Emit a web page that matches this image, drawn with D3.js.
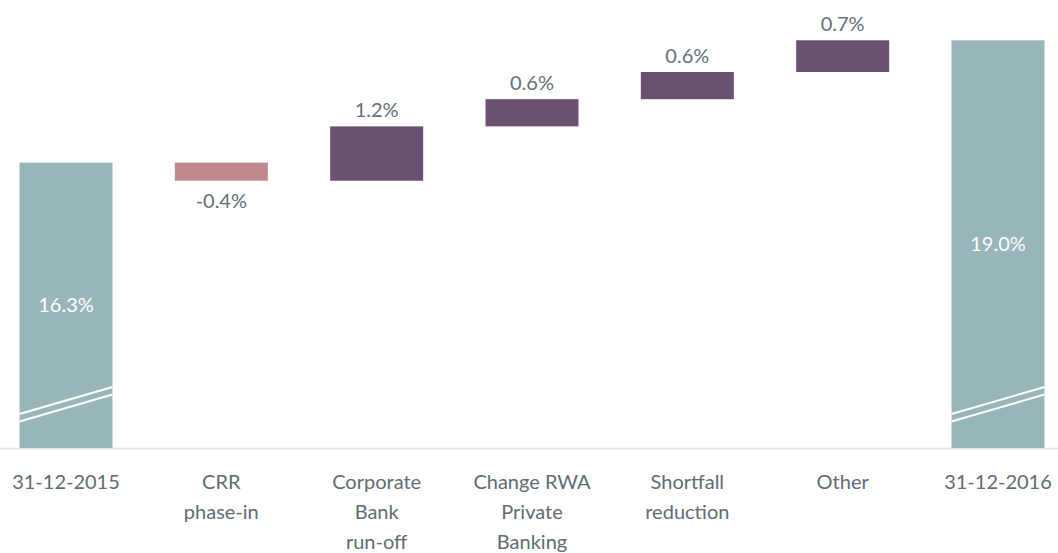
<!DOCTYPE html>
<html>
<head>
<meta charset="utf-8">
<script src="https://cdn.jsdelivr.net/npm/d3@7"></script>
<style>
  html, body { margin: 0; padding: 0; background: #fff; }
  svg { display: block; font-family: "Source Sans Pro", Lato, "Noto Sans", sans-serif; }
</style>
</head>
<body>
<div id="chart"></div>
<script>
// categories (multi-line labels split on \n)
const categories = [
  "31-12-2015",
  "CRR\nphase-in",
  "Corporate\nBank\nrun-off",
  "Change RWA\nPrivate\nBanking",
  "Shortfall\nreduction",
  "Other",
  "31-12-2016"
];
// "total" bars carry their level, the others carry the step
const kinds = ["total", "step", "step", "step", "step", "step", "total"];
const values = [16.3, -0.4, 1.2, 0.6, 0.6, 0.7, 19.0];

function draw() {
  const width = 1058;
  const height = 553;

  const colors = { total: "#98b5b9", up: "#6a5172", down: "#bf8a8d" };

  // running totals -> bar start / end
  let running = 0;
  const bars = categories.map((c, i) => {
    let y0, y1, type;
    if (kinds[i] === "total") {
      running = values[i];
      y0 = null; y1 = values[i]; type = "total";
    } else {
      y0 = running; y1 = running + values[i]; running = y1;
      type = values[i] < 0 ? "down" : "up";
    }
    return { name: c, value: values[i], y0, y1, type };
  });

  const x = d3.scalePoint()
      .domain(categories)
      .range([66, 998]);
  const barWidth = 93;

  // broken axis: bottom starts at 10%
  const y = d3.scaleLinear()
      .domain([10, 19])
      .range([448, 40.3]);

  const svg = d3.create("svg")
      .attr("viewBox", [0, 0, width, height])
      .attr("width", width)
      .attr("height", height);

  // baseline
  svg.append("line")
      .attr("x1", 0).attr("x2", width)
      .attr("y1", y(10) + 0.5).attr("y2", y(10) + 0.5)
      .attr("stroke", "#e3e3e3")
      .attr("stroke-width", 1.5);

  const g = svg.append("g");

  g.selectAll("rect")
    .data(bars)
    .join("rect")
      .attr("x", d => x(d.name) - barWidth / 2)
      .attr("width", barWidth)
      .attr("y", d => d.type === "total" ? y(d.y1) : y(Math.max(d.y0, d.y1)))
      .attr("height", d => d.type === "total" ? y(10) - y(d.y1) : Math.abs(y(d.y0) - y(d.y1)))
      .attr("fill", d => colors[d.type]);

  // axis break marks on the total bars
  const totals = bars.filter(d => d.type === "total");
  [0, 7.5].forEach(off => {
    g.selectAll(null)
      .data(totals)
      .join("line")
        .attr("x1", d => x(d.name) - barWidth / 2)
        .attr("x2", d => x(d.name) + barWidth / 2)
        .attr("y1", 414 + off)
        .attr("y2", 387 + off)
        .attr("stroke", "#fff")
        .attr("stroke-width", 2);
  });

  const fmt = v => v.toFixed(1) + "%";

  // value labels
  g.selectAll("text.val")
    .data(bars)
    .join("text")
      .attr("class", "val")
      .attr("x", d => x(d.name))
      .attr("y", d => {
        if (d.type === "total") return (y(d.y1) + y(10)) / 2;
        if (d.type === "down") return y(Math.min(d.y0, d.y1)) + 20;
        return y(d.y1) - 16;
      })
      .attr("dy", "0.35em")
      .attr("text-anchor", "middle")
      .attr("font-size", 20)
      .attr("fill", d => d.type === "total" ? "#fff" : "#646f77")
      .text(d => fmt(d.value));

  // category labels
  const cat = g.selectAll("text.cat")
    .data(bars)
    .join("text")
      .attr("class", "cat")
      .attr("x", d => x(d.name))
      .attr("y", 482)
      .attr("text-anchor", "middle")
      .attr("font-size", 20)
      .attr("fill", "#606c74");

  cat.selectAll("tspan")
    .data(d => d.name.split("\n").map(t => ({ t, xx: x(d.name) })))
    .join("tspan")
      .attr("x", d => d.xx)
      .attr("dy", (d, i) => i === 0 ? "0.35em" : 30)
      .text(d => d.t);

  document.getElementById("chart").appendChild(svg.node());
}

document.addEventListener("DOMContentLoaded", draw);
</script>
</body>
</html>
